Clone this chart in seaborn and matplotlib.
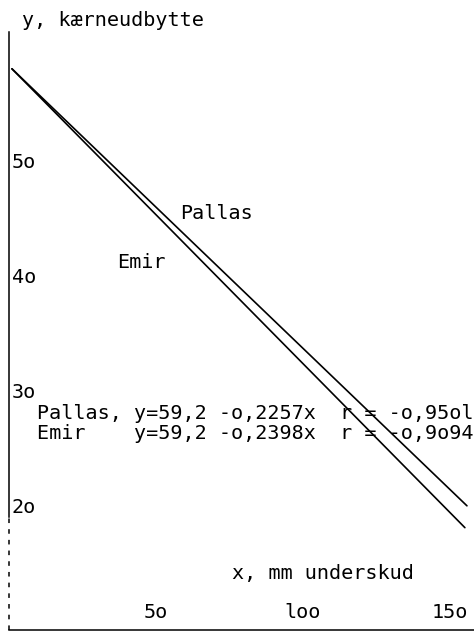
import numpy as np
import pandas as pd
import matplotlib
matplotlib.use('Agg')
import matplotlib.pyplot as plt
import seaborn as sns

# lines as drawn
pallas_x = [1, 155.8]
pallas_y = [59.0, 21.0]
emir_x = [1, 155.1]
emir_y = [59.0, 19.1]

y_ticks = [20, 30, 40, 50]
y_ticklabels = ['2o', '3o', '4o', '5o']
x_ticks = [50, 100, 150]
x_ticklabels = ['5o', 'loo', '15o']

pallas_eq = 'Pallas, y=59,2 -o,2257x  r = -o,95ol'
emir_eq = 'Emir    y=59,2 -o,2398x  r = -o,9o94'

df = pd.DataFrame({
    'x': pallas_x + emir_x,
    'y': pallas_y + emir_y,
    'sort': ['Pallas'] * len(pallas_x) + ['Emir'] * len(emir_x),
})

sns.set_style('white')
plt.rcParams['font.family'] = ['DejaVu Sans Mono', 'DejaVu Sans']
plt.rcParams['text.color'] = 'black'
fs = 14.5

fig = plt.figure(figsize=(4.74, 6.32), dpi=100)
ax = fig.add_axes([9 / 474, 2 / 632, 1 - 9 / 474, 598 / 632])

sns.lineplot(data=df, x='x', y='y', units='sort', estimator=None,
             color='black', linewidth=1.2, ax=ax, legend=False)

ax.set_xlim(0, 158.2)
ax.set_ylim(10.2, 62.2)
ax.set_xlabel('')
ax.set_ylabel('')

for side in ['top', 'right']:
    ax.spines[side].set_visible(False)
for side in ['left', 'bottom']:
    ax.spines[side].set_color('black')
    ax.spines[side].set_linewidth(1.1)
ax.spines['left'].set_bounds(20, 62.2)
ax.axvline(0, ymin=0, ymax=(20 - 10.2) / 52, color='black', lw=1.1,
           ls=(0, (3, 4)), clip_on=False)

ax.set_yticks(y_ticks)
ax.set_yticklabels(y_ticklabels, ha='left', va='bottom', fontsize=fs,
                   family='DejaVu Sans Mono', color='black')
ax.tick_params(axis='y', direction='in', length=4, width=1.0, pad=-2,
               colors='black')
ax.set_xticks(x_ticks)
ax.set_xticklabels(x_ticklabels, va='bottom', fontsize=fs,
                   family='DejaVu Sans Mono', color='black')
ax.tick_params(axis='x', direction='in', length=5, width=1.0, pad=-6,
               colors='black')

ax.text(4.4, 63.2, 'y, kærneudbytte', fontsize=fs, va='center', ha='left',
        clip_on=False)
ax.text(58.2, 46.4, 'Pallas', fontsize=fs, va='center', ha='left')
ax.text(36.7, 42.2, 'Emir', fontsize=fs, va='center', ha='left')
ax.text(9.5, 29.0, pallas_eq, fontsize=fs, va='center', ha='left')
ax.text(9.5, 27.3, emir_eq, fontsize=fs, va='center', ha='left')
ax.text(75.9, 15.1, 'x, mm underskud', fontsize=fs, va='center', ha='left')

fig.savefig('out.png', dpi=100)
